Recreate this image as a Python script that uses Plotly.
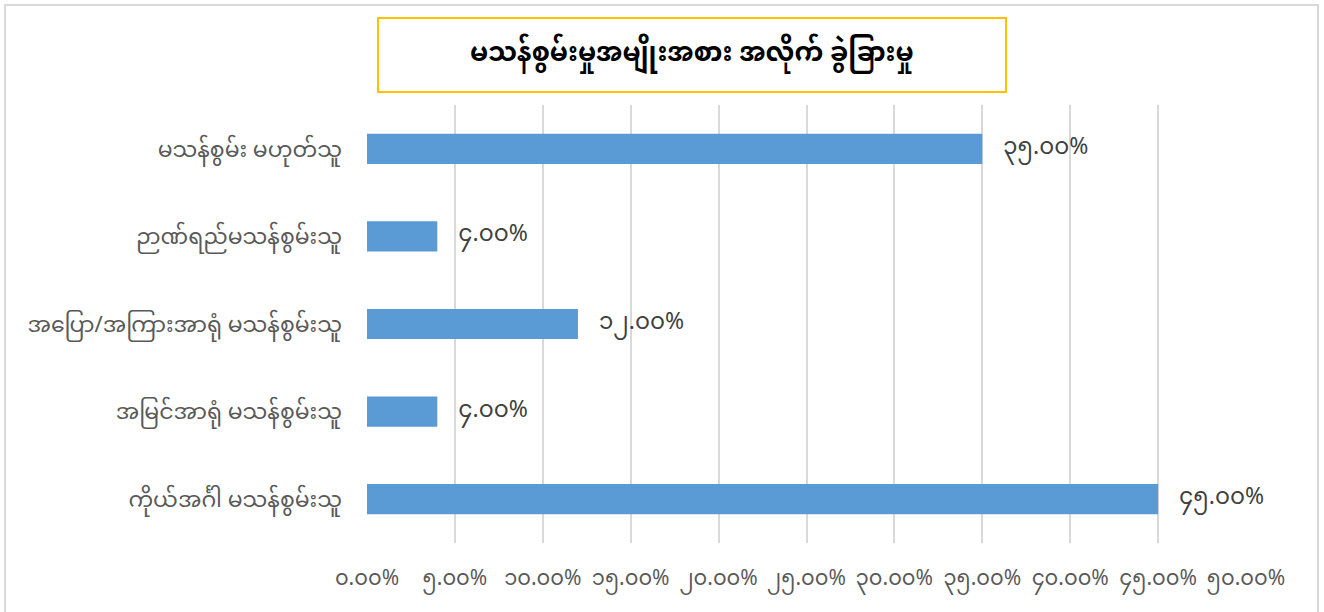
import plotly.graph_objects as go

categories = [
    "မသန်စွမ်း မဟုတ်သူ",
    "ဉာဏ်ရည်မသန်စွမ်းသူ",
    "အပြော/အကြားအာရုံ မသန်စွမ်းသူ",
    "အမြင်အာရုံ မသန်စွမ်းသူ",
    "ကိုယ်အင်္ဂါ မသန်စွမ်းသူ",
]
values = [35, 4, 12, 4, 45]
value_labels = ["၃၅.၀၀%", "၄.၀၀%", "၁၂.၀၀%", "၄.၀၀%", "၄၅.၀၀%"]
tick_vals = [0, 5, 10, 15, 20, 25, 30, 35, 40, 45, 50]
tick_text = ["၀.၀၀%", "၅.၀၀%", "၁၀.၀၀%", "၁၅.၀၀%", "၂၀.၀၀%", "၂၅.၀၀%",
             "၃၀.၀၀%", "၃၅.၀၀%", "၄၀.၀၀%", "၄၅.၀၀%", "၅၀.၀၀%"]
title = "မသန်စွမ်းမှုအမျိုးအစား အလိုက် ခွဲခြားမှု"

FONT = "Noto Sans Myanmar, Padauk, Myanmar Text, Noto Sans, sans-serif"
W, H = 1324, 612
L, T = 367, 105
pw, ph = 879, 438
R, B = W - L - pw, H - T - ph

def px(x):
    return (x - L) / pw

def py(y):
    return 1 - (y - T) / ph

fig = go.Figure(go.Bar(
    y=categories, x=values, orientation="h",
    marker=dict(color="#5B9BD5", line=dict(width=0)),
    text=["   " + t for t in value_labels], textposition="outside",
    constraintext="none",
    textfont=dict(family=FONT, size=23, color="#404040"),
    cliponaxis=False, hoverinfo="skip",
))

fig.update_layout(
    width=W, height=H,
    margin=dict(l=L, r=R, t=T, b=B, autoexpand=False),
    paper_bgcolor="white", plot_bgcolor="white",
    bargap=0.655, showlegend=False,
    font=dict(family=FONT, color="#595959"),
    xaxis=dict(range=[0, 50], tickvals=tick_vals, ticktext=tick_text,
               showgrid=True, gridcolor="#D9D9D9", gridwidth=1.5,
               zeroline=False, showline=False, ticks="", tickangle=0,
               tickfont=dict(family=FONT, size=21, color="#595959"),
               ticklabelstandoff=20),
    yaxis=dict(categoryorder="array", categoryarray=categories,
               autorange="reversed", showgrid=False, zeroline=False,
               showline=False, ticks="",
               tickfont=dict(family=FONT, size=22, color="#595959"),
               ticklabelstandoff=24),
    shapes=[
        dict(type="rect", xref="paper", yref="paper",
             x0=px(5), x1=px(1318), y0=py(5), y1=py(640),
             line=dict(color="#D9D9D9", width=2), layer="below"),
        dict(type="rect", xref="paper", yref="paper",
             x0=px(378), x1=px(1006), y0=py(18), y1=py(92),
             line=dict(color="#FFC000", width=2), fillcolor="white"),
    ],
    annotations=[
        dict(text="<b>" + title + "</b>", xref="paper", yref="paper",
             x=px(692), y=py(55), showarrow=False,
             font=dict(family=FONT, size=26, color="black"),
             xanchor="center", yanchor="middle"),
    ],
)

fig.write_html("out.html", config={"displayModeBar": False},
               post_script="document.body.style.margin='0';")
